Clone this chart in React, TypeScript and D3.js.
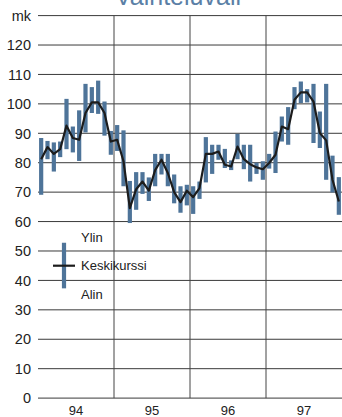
import React from "react";
import * as d3 from "d3";

const years = ["94", "95", "96", "97"];
const yTicks = [0, 10, 20, 30, 40, 50, 60, 70, 80, 90, 100, 110, 120];
const high = [
  88.4, 87.4, 86.9, 87.2, 101.7, 92.3, 97.8, 106.8, 105.7, 107.9, 100.8, 90.8,
  92.8, 91, 73.8, 76.8, 76.8, 75, 83, 83, 83, 76, 72, 72.5,
  72, 73.6, 88.7, 86.1, 86.1, 84.7, 80.8, 89.8, 86.1, 86.1, 80, 80.5,
  83, 90.6, 95.7, 98.9, 105.7, 107.6, 105, 106.8, 97.4, 106.8, 82.4, 75.1,
];
const low = [
  69.1, 81.2, 77, 81.9, 84.6, 83.5, 80.6, 90.3, 96.9, 96.6, 89.2, 82.7,
  84, 72, 59.5, 64, 69.4, 67, 72, 76, 72, 66.2, 63, 65.5,
  62.6, 67.7, 73.3, 76.2, 81, 78.2, 77.5, 81.2, 77.8, 73.6, 76.2, 74.2,
  78, 76.5, 87.2, 86.1, 98.2, 100.3, 100.5, 86.7, 85, 74.2, 69.9, 62.3,
];
const avg = [
  81.2, 85.3, 83, 84.6, 92.6, 88.4, 87.8, 96.9, 100.5, 100.5, 96.9, 87.2,
  87.8, 80.5, 64.6, 71, 73.6, 70.5, 77.5, 81, 76.5, 70, 66.6, 70.5,
  68.3, 71.4, 83, 83, 83.8, 79.3, 78.7, 85.5, 81.2, 79.5, 78.4, 77.8,
  79.9, 82.7, 92.3, 91.4, 101.4, 103.9, 103.9, 100.8, 90.1, 87.6, 74.2, 66.8,
];
const legendLabels = ["Ylin", "Keskikurssi", "Alin"];
const title = "Vaihteluväli";

const W = 342;
const H = 417;
const FONT = "'Liberation Sans', Arial, Helvetica, sans-serif";
const BAR = "#4e7499";

export default function App() {
  const x = d3.scaleLinear().domain([0, 48]).range([38, 342]);
  const y = d3.scaleLinear().domain([0, 130]).range([398.1, 15.6]);
  const line = d3
    .line<number>()
    .x((_, i) => x(i + 0.5))
    .y((d) => y(d))
    .curve(d3.curveLinear);

  return (
    <svg
      width={W}
      height={H}
      style={{ position: "absolute", left: 0, top: 0, background: "#fff" }}
      fontFamily={FONT}
    >
      <text x={178} y={4.5} textAnchor="middle" fontSize={25} fill="#5b7fa6">
        {title}
      </text>
      {[...yTicks, 130].map((t) => (
        <line key={t} x1={x(0)} x2={W} y1={y(t)} y2={y(t)} stroke="#3a3a3a" strokeWidth={1} />
      ))}
      {[12, 24, 36].map((m) => (
        <line key={m} x1={x(m)} x2={x(m)} y1={y(130)} y2={y(0)} stroke="#444" strokeWidth={1} />
      ))}
      {yTicks.map((t) => (
        <text key={t} x={31} y={y(t)} dy="0.36em" textAnchor="end" fontSize={14.5} fill="#222">
          {t}
        </text>
      ))}
      <text x={31} y={y(130)} dy="0.36em" textAnchor="end" fontSize={14.5} fill="#222">
        mk
      </text>
      {years.map((yr, i) => (
        <text key={yr} x={x(i * 12 + 6)} y={415} textAnchor="middle" fontSize={13} fill="#222">
          {yr}
        </text>
      ))}
      {high.map((h, i) => (
        <rect
          key={i}
          x={x(i + 0.5) - 2.1}
          width={4.2}
          y={y(h)}
          height={y(low[i]) - y(h)}
          fill={BAR}
        />
      ))}
      <path d={line(avg) || ""} fill="none" stroke="#1c1c1c" strokeWidth={2.2} strokeLinejoin="round" />
      {/* legend */}
      <rect x={64 - 2.1} width={4.2} y={y(52.8)} height={y(37.3) - y(52.8)} fill={BAR} />
      <line x1={53} x2={75} y1={y(45)} y2={y(45)} stroke="#1c1c1c" strokeWidth={2.2} />
      <text x={81} y={241.5} fontSize={13} fill="#222">{legendLabels[0]}</text>
      <text x={81} y={270} fontSize={13} fill="#222">{legendLabels[1]}</text>
      <text x={81} y={298.5} fontSize={13} fill="#222">{legendLabels[2]}</text>
    </svg>
  );
}
